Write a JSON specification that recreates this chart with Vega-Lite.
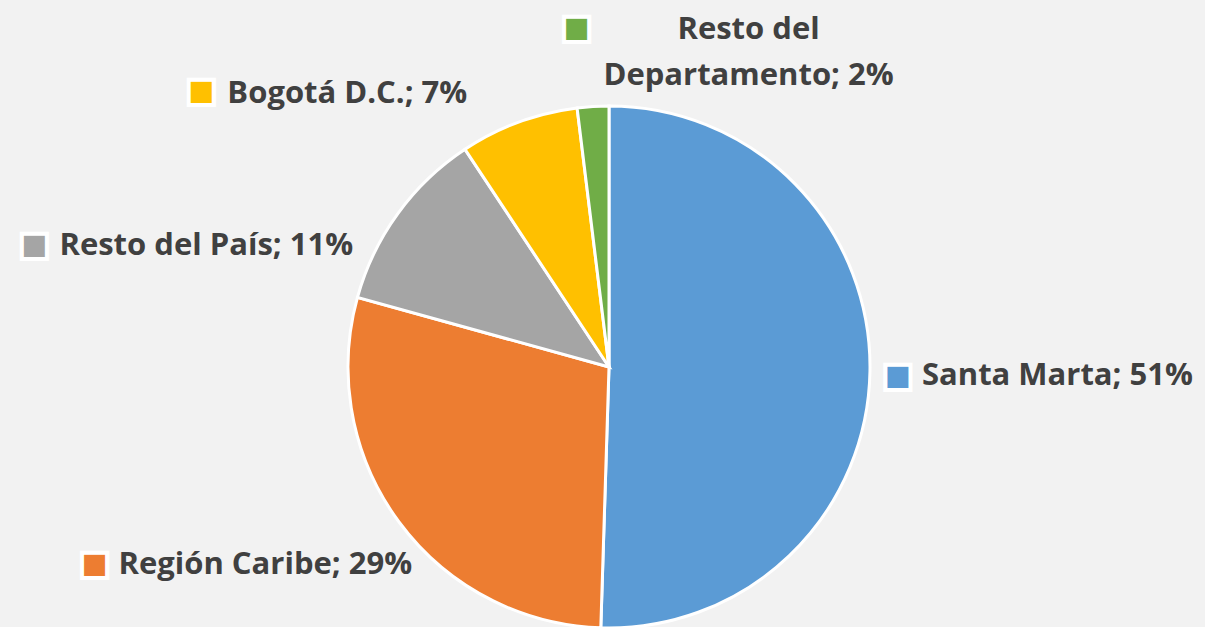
{
  "$schema": "https://vega.github.io/schema/vega-lite/v6.json",
  "width": 1192,
  "height": 520,
  "autosize": {"type": "none"},
  "padding": {"left": 13, "top": 107, "right": 0, "bottom": 0},
  "background": "#f2f2f2",
  "config": {"view": {"stroke": null}},
  "data": {
    "values": [
      {"cat": "Santa Marta", "value": 50.5, "order": 1, "label": "Santa Marta; 51%"},
      {"cat": "Región Caribe", "value": 28.8, "order": 2, "label": "Región Caribe; 29%"},
      {"cat": "Resto del País", "value": 11.4, "order": 3, "label": "Resto del País; 11%"},
      {"cat": "Bogotá D.C.", "value": 7.35, "order": 4, "label": "Bogotá D.C.; 7%"},
      {"cat": "Resto del Departamento", "value": 1.95, "order": 5, "label": ["Resto del", "Departamento; 2%"]}
    ]
  },
  "encoding": {
    "theta": {"field": "value", "type": "quantitative", "stack": true},
    "order": {"field": "order", "type": "quantitative"},
    "color": {
      "field": "cat",
      "type": "nominal",
      "scale": {
        "domain": ["Santa Marta", "Región Caribe", "Resto del País", "Bogotá D.C.", "Resto del Departamento"],
        "range": ["#5b9bd5", "#ed7d31", "#a5a5a5", "#ffc000", "#70ad47"]
      },
      "legend": null
    }
  },
  "layer": [
    {"mark": {"type": "arc", "outerRadius": 261, "stroke": "white", "strokeWidth": 3}},

    {"mark": {"type": "text", "radius": 285, "font": "DejaVu Sans", "fontSize": 33, "stroke": "white", "strokeWidth": 4, "align": "center", "baseline": "middle", "dx": 4, "dy": 4.5},
     "encoding": {"text": {"condition": {"test": "datum.cat === 'Santa Marta'", "value": "■"}, "value": ""}}},
    {"mark": {"type": "text", "radius": 285, "font": "Open Sans", "fontWeight": "bold", "fontSize": 31, "align": "left", "baseline": "middle", "dx": 28, "dy": 5},
     "encoding": {"color": {"value": "#404040"}, "text": {"condition": {"test": "datum.cat === 'Santa Marta'", "field": "label"}, "value": ""}}},

    {"mark": {"type": "text", "radius": 285, "font": "DejaVu Sans", "fontSize": 33, "stroke": "white", "strokeWidth": 4, "align": "center", "baseline": "middle", "dx": -285, "dy": 28},
     "encoding": {"text": {"condition": {"test": "datum.cat === 'Región Caribe'", "value": "■"}, "value": ""}}},
    {"mark": {"type": "text", "radius": 285, "font": "Open Sans", "fontWeight": "bold", "fontSize": 31, "align": "left", "baseline": "middle", "dx": -261, "dy": 29},
     "encoding": {"color": {"value": "#404040"}, "text": {"condition": {"test": "datum.cat === 'Región Caribe'", "field": "label"}, "value": ""}}},

    {"mark": {"type": "text", "radius": 285, "font": "DejaVu Sans", "fontSize": 33, "stroke": "white", "strokeWidth": 4, "align": "center", "baseline": "middle", "dx": -344, "dy": 46},
     "encoding": {"text": {"condition": {"test": "datum.cat === 'Resto del País'", "value": "■"}, "value": ""}}},
    {"mark": {"type": "text", "radius": 285, "font": "Open Sans", "fontWeight": "bold", "fontSize": 31, "align": "left", "baseline": "middle", "dx": -319, "dy": 47},
     "encoding": {"color": {"value": "#404040"}, "text": {"condition": {"test": "datum.cat === 'Resto del País'", "field": "label"}, "value": ""}}},

    {"mark": {"type": "text", "radius": 285, "font": "DejaVu Sans", "fontSize": 33, "stroke": "white", "strokeWidth": 4, "align": "center", "baseline": "middle", "dx": -309, "dy": -8.6},
     "encoding": {"text": {"condition": {"test": "datum.cat === 'Bogotá D.C.'", "value": "■"}, "value": ""}}},
    {"mark": {"type": "text", "radius": 285, "font": "Open Sans", "fontWeight": "bold", "fontSize": 31, "align": "left", "baseline": "middle", "dx": -283, "dy": -6},
     "encoding": {"color": {"value": "#404040"}, "text": {"condition": {"test": "datum.cat === 'Bogotá D.C.'", "field": "label"}, "value": ""}}},

    {"mark": {"type": "text", "radius": 285, "font": "DejaVu Sans", "fontSize": 33, "stroke": "white", "strokeWidth": 4, "align": "center", "baseline": "middle", "dx": -15, "dy": -55},
     "encoding": {"text": {"condition": {"test": "datum.cat === 'Resto del Departamento'", "value": "■"}, "value": ""}}},
    {"mark": {"type": "text", "radius": 285, "font": "Open Sans", "fontWeight": "bold", "fontSize": 31, "lineHeight": 46, "align": "center", "baseline": "middle", "dx": 157, "dy": -53},
     "encoding": {"color": {"value": "#404040"}, "text": {"condition": {"test": "datum.cat === 'Resto del Departamento'", "field": "label"}, "value": ""}}}
  ]
}
